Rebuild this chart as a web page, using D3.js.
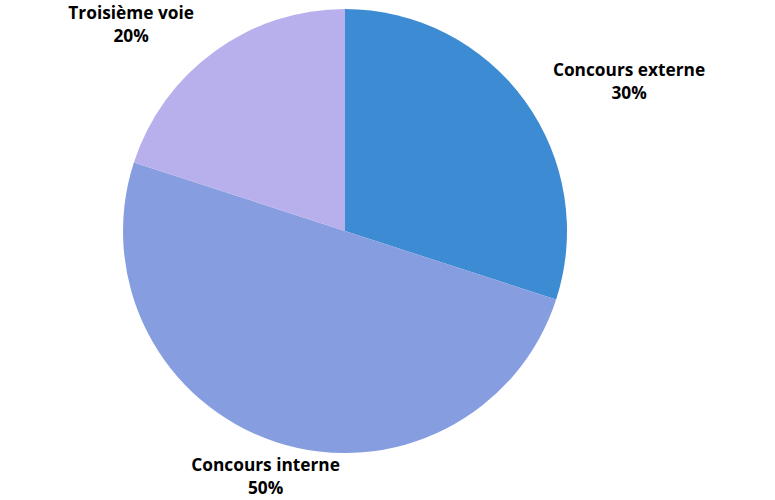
<!DOCTYPE html>
<html><head><meta charset="utf-8">
<script src="https://cdn.jsdelivr.net/npm/d3@7"></script>
<style>body{margin:0;background:#fff}svg{display:block}</style>
</head><body>
<svg id="c" width="775" height="500"></svg>
<script>
const categories = ["Concours externe", "Concours interne", "Troisième voie"];
const values = [30, 50, 20];
const colors = ["#3d8bd2", "#869de0", "#b8b0ec"];

const svg = d3.select("#c");
const cx = 345, cy = 231, r = 222, gap = 35;
const data = categories.map((c, i) => ({name: c, value: values[i], color: colors[i]}));
const pie = d3.pie().sort(null).value(d => d.value);
const arc = d3.arc().innerRadius(0).outerRadius(r);
const g = svg.append("g").attr("transform", `translate(${cx},${cy})`);
const arcs = pie(data);
g.selectAll("path").data(arcs).join("path")
  .attr("d", arc).attr("fill", d => d.data.color);

const total = d3.sum(values);
arcs.forEach(d => {
  const a = (d.startAngle + d.endAngle) / 2;
  const s = Math.sin(a), c = Math.cos(a);
  const px = (r + gap) * s, py = -(r + gap) * c;
  const t = g.append("text").attr("font-family", "'Open Sans', sans-serif")
    .attr("font-weight", "bold").attr("font-size", 17.3).attr("fill", "#000")
    .attr("text-anchor", "middle");
  const l1 = t.append("tspan").text(d.data.name);
  const l2 = t.append("tspan").text(Math.round(d.data.value / total * 100) + "%");
  const w = Math.max(l1.node().getComputedTextLength(), l2.node().getComputedTextLength());
  const x = px + (Math.abs(s) > 0.5 ? Math.sign(s) * w / 2 : 0);
  l1.attr("x", x).attr("y", py - 4);
  l2.attr("x", x).attr("y", py + 19);
});
</script>
</body></html>
